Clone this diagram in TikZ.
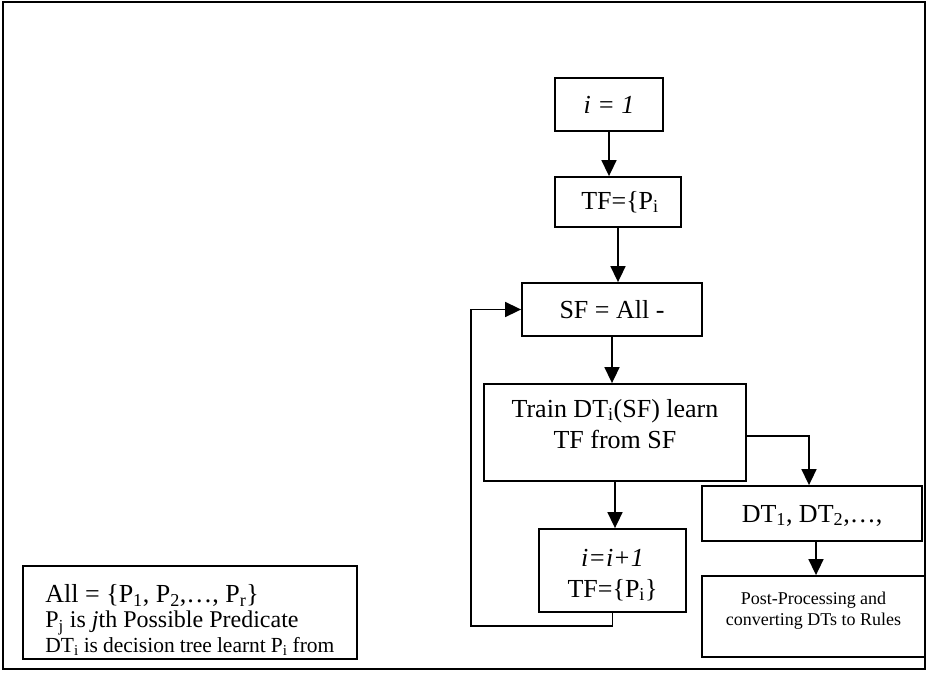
\documentclass[tikz,border=0pt]{standalone}
\usepackage{fontspec}
\setmainfont{Liberation Serif}
\usetikzlibrary{arrows.meta}
% draw content higher (or lower) than its layout box
\newcommand\liftup[2]{\raisebox{#1}[\height][\depth]{#2}}
\begin{document}
\begin{tikzpicture}[x=1pt,y=-1pt,
  stepbox/.style={draw, line width=1.8pt, inner sep=2pt, align=center,
    font=\fontsize{26}{31}\selectfont},
  flow/.style={line width=1.6pt, -{Triangle[length=16pt,width=15pt]}},
  frame/.style={draw, line width=1.8pt}]
\useasboundingbox (0,0) rectangle (928,674);
\draw[frame] (3,2) rectangle (925,669);

% main loop
\node[stepbox, minimum width=108pt, minimum height=53pt] (init) at (609,104.5) {\textit{i = 1}};
\node[stepbox, minimum width=126pt, minimum height=50pt] (target) at (618,202) {\hspace*{4pt}TF=\{P\textsubscript{i}};
\node[stepbox, minimum width=180pt, minimum height=53pt] (source) at (612,309.5) {SF = All -};
\node[stepbox, minimum width=262pt, minimum height=97pt] (train) at (615,432.5)
  {\liftup{6pt}{\begin{tabular}{@{}c@{}}Train DT\textsubscript{i}(SF) learn\\TF from SF\end{tabular}}};
\node[stepbox, minimum width=147pt, minimum height=83pt] (next) at (612.5,570.5)
  {\liftup{-5pt}{\begin{tabular}{@{}c@{}}\textit{i=i+1}\\TF=\{P\textsubscript{i}\}\end{tabular}}};

% output branch
\node[stepbox, minimum width=220pt, minimum height=55pt] (trees) at (812,513.5)
  {\liftup{-2pt}{DT\textsubscript{1}, DT\textsubscript{2},…,}};
\node[stepbox, minimum width=223pt, minimum height=81pt, font=\fontsize{18}{21}\selectfont] (post) at (813.5,616.5)
  {\liftup{6pt}{\begin{tabular}{@{}c@{}}Post-Processing and\\converting DTs to Rules\end{tabular}}};

% legend
\node[draw, line width=1.8pt, anchor=north west, minimum width=334pt, minimum height=93pt,
  inner xsep=21pt, inner ysep=0pt, font=\fontsize{26}{25}\selectfont] (legend) at (22,565)
  {\liftup{-10pt}{\begin{tabular}{@{}l@{}}
   All = \{P\textsubscript{1}, P\textsubscript{2},…, P\textsubscript{r}\}\\
   {\fontsize{24}{25}\selectfont P\textsubscript{j} is \textit{j}th Possible Predicate}\\
   {\fontsize{21.5}{25}\selectfont\makebox[289pt][s]{DT\textsubscript{i} is decision tree learnt P\textsubscript{i} from}}
   \end{tabular}}\hspace*{\fill}};

% connectors
\coordinate (loopturn) at (471,626);
\draw[flow] (init.south) -- (init.south |- target.north);
\draw[flow] (target.south) -- (target.south |- source.north);
\draw[flow] (source.south) -- (source.south |- train.north);
\draw[flow] (train.south) -- (train.south |- next.north);
\draw[flow] (next.south) |- (loopturn) |- (source.west);
\draw[flow] ([yshift=-3.5pt]train.east) -| ([xshift=-3pt]trees.north);
\draw[flow] ([xshift=4pt]trees.south) -- ([xshift=4pt]trees.south |- post.north);
\end{tikzpicture}
\end{document}
